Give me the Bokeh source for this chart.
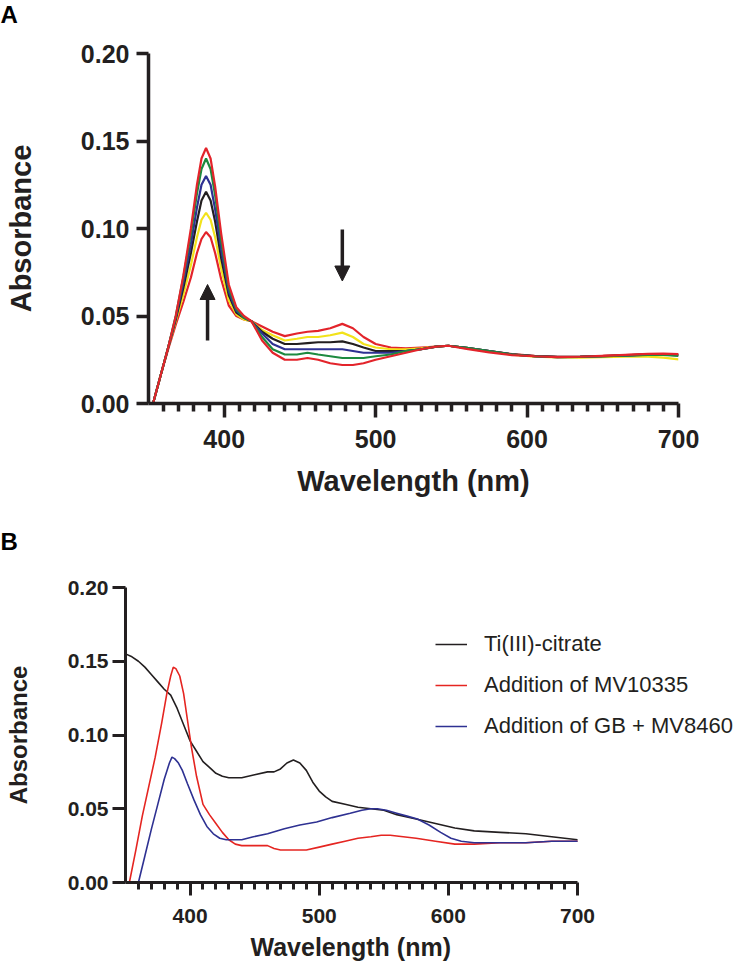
from bokeh.plotting import figure
from bokeh.models import (Range1d, FixedTicker, Arrow, NormalHead, Title,
                          Legend, LegendItem, CustomJSTickFormatter)
from bokeh.embed import file_html
from bokeh.resources import INLINE

# ---------------- Panel A data ----------------
a_wl = [353, 358, 363, 368, 373, 378, 382, 385, 388, 391, 394, 398, 403, 408, 413, 418,
        425, 432, 440, 448, 455, 462, 470, 478, 485, 492, 500, 510, 520, 530, 540, 548,
        560, 575, 590, 605, 620, 635, 650, 665, 680, 690, 700]

a_red_low = [0, .016, .031, .045, .058, .072, .086, .094, .098, .095, .086, .071, .056, .050, .048, .047,
             .044, .041, .0385, .040, .041, .0415, .043, .0455, .043, .038, .034, .032, .0315, .032, .0325, .033,
             .0318, .0300, .0282, .0272, .0266, .0268, .0272, .0276, .0282, .0283, .0280]
a_yellow = [0, .016, .032, .047, .062, .079, .095, .105, .109, .105, .095, .077, .059, .051, .048, .047,
            .042, .039, .036, .037, .038, .038, .039, .0405, .038, .034, .032, .031, .031, .0315, .0325, .033,
            .0318, .0298, .0279, .0268, .0263, .0262, .0265, .0268, .0268, .0262, .0252]
a_black = [0, .016, .032, .048, .066, .086, .104, .116, .121, .116, .104, .083, .062, .052, .049, .047,
           .041, .037, .034, .034, .0345, .035, .035, .0355, .034, .032, .030, .030, .030, .031, .0325, .033,
           .0318, .0300, .0281, .0271, .0266, .0267, .0271, .0275, .0281, .0282, .0278]
a_blue = [0, .016, .032, .049, .069, .091, .112, .125, .130, .125, .111, .088, .064, .053, .049, .047,
          .040, .034, .031, .031, .031, .031, .031, .031, .030, .029, .029, .029, .030, .031, .0325, .033,
          .0318, .0299, .0280, .0270, .0265, .0266, .0270, .0274, .0279, .0280, .0275]
a_green = [0, .016, .032, .050, .072, .097, .120, .134, .140, .134, .119, .093, .066, .054, .049, .047,
           .038, .031, .028, .028, .029, .028, .027, .026, .026, .026, .027, .028, .030, .031, .0325, .033,
           .0318, .0299, .0280, .0270, .0265, .0266, .0270, .0274, .0278, .0278, .0272]
a_red_high = [0, .016, .032, .050, .073, .100, .125, .140, .146, .140, .124, .097, .068, .055, .050, .047,
              .036, .029, .025, .025, .026, .025, .023, .022, .022, .023, .025, .027, .029, .031, .0325, .033,
              .0312, .0292, .0276, .0270, .0265, .0267, .0272, .0278, .0284, .0285, .0282]

a_series = [
    (a_red_low, "#e3242b"),
    (a_yellow, "#f2e21a"),
    (a_black, "#231f20"),
    (a_blue, "#2e3192"),
    (a_green, "#1d8a3f"),
    (a_red_high, "#e3242b"),
]

# arrows in panel A (wavelength, start absorbance, end absorbance)
arrow_x = [389, 478]
arrow_y_start = [0.036, 0.0994]
arrow_y_end = [0.068, 0.070]

# ---------------- Panel B data ----------------
b_black_wl = [350, 355, 360, 365, 370, 375, 380, 385, 390, 395, 400, 405, 410, 415, 420, 425, 430,
              440, 450, 460, 465, 470, 475, 480, 485, 490, 495, 500, 505, 510, 520, 530, 540, 550,
              560, 575, 590, 605, 620, 640, 660, 680, 700]
b_black = [.155, .153, .150, .146, .141, .136, .131, .127, .118, .107, .096, .089, .082, .078, .074, .072, .071,
           .071, .073, .075, .075, .077, .081, .083, .081, .076, .068, .062, .058, .055, .053, .051, .050, .049,
           .046, .043, .040, .037, .035, .034, .033, .031, .029]

b_red_wl = [353, 358, 363, 368, 373, 378, 382, 385, 387, 389, 392, 395, 398, 401, 405, 410, 415, 420,
            425, 430, 435, 440, 445, 450, 455, 460, 465, 470, 480, 490, 500, 510, 520, 530, 540, 548,
            555, 565, 575, 590, 605, 620, 640, 660, 680, 700]
b_red = [0, .022, .045, .065, .085, .108, .128, .140, .146, .145, .140, .128, .110, .092, .072, .053, .046, .040,
         .034, .029, .026, .025, .025, .025, .025, .025, .023, .022, .022, .022, .024, .026, .028, .030, .031, .032,
         .032, .031, .030, .028, .026, .026, .027, .027, .028, .028]

b_blue_wl = [360, 365, 370, 375, 380, 384, 386, 388, 391, 394, 398, 403, 408, 413, 418, 423, 428, 434,
             440, 449, 460, 473, 485, 498, 510, 524, 533, 540, 545, 552, 560, 568, 576, 585, 594, 602,
             610, 620, 640, 660, 680, 700]
b_blue = [0, .018, .036, .053, .070, .081, .085, .084, .081, .076, .067, .056, .046, .038, .033, .030, .029, .029,
          .029, .031, .033, .0365, .039, .041, .044, .047, .049, .050, .050, .049, .047, .045, .043, .039, .034, .030,
          .028, .027, .027, .027, .028, .028]

b_labels = ["Ti(III)-citrate", "Addition of MV10335", "Addition of GB + MV8460"]
b_colors = ["#231f20", "#e52521", "#2e3192"]

# ---------------- ticks ----------------
x_ticks = [400, 500, 600, 700]
x_minor = [360, 370, 380, 390, 410, 420, 430, 440, 450, 460, 470, 480, 490, 510, 520, 530, 540, 550,
           560, 570, 580, 590, 610, 620, 630, 640, 650, 660, 670, 680, 690]
y_ticks = [0.0, 0.05, 0.10, 0.15, 0.20]
x_axis_span = (350, 700)

AXIS = "#231f20"
FONT = "Liberation Sans"


def style(p, tick_fs, title_fs, ylab_standoff, xlab_standoff, maj_y, maj_x, min_x, lw,
          ytick_standoff, xtick_standoff):
    p.grid.visible = False
    p.outline_line_color = None
    p.background_fill_color = "white"
    p.border_fill_color = "white"
    p.xaxis.ticker = FixedTicker(ticks=x_ticks, minor_ticks=x_minor)
    p.yaxis.ticker = FixedTicker(ticks=y_ticks, minor_ticks=[])
    p.yaxis.formatter = CustomJSTickFormatter(code="return tick.toFixed(2);")
    p.xaxis.bounds = x_axis_span
    for ax in (p.xaxis[0], p.yaxis[0]):
        ax.axis_line_width = lw
        ax.axis_line_color = AXIS
        ax.major_tick_line_width = lw
        ax.major_tick_line_color = AXIS
        ax.minor_tick_line_width = lw
        ax.minor_tick_line_color = AXIS
        ax.major_tick_in = 0
        ax.minor_tick_in = 0
        ax.major_label_text_font = FONT
        ax.major_label_text_font_style = "bold"
        ax.major_label_text_font_size = tick_fs
        ax.major_label_text_color = AXIS
        ax.axis_label_text_font = FONT
        ax.axis_label_text_font_style = "bold"
        ax.axis_label_text_font_size = title_fs
        ax.axis_label_text_color = AXIS
    p.yaxis.major_tick_out = maj_y
    p.yaxis.minor_tick_out = 0
    p.xaxis.major_tick_out = maj_x
    p.xaxis.minor_tick_out = min_x
    p.yaxis.axis_label_standoff = ylab_standoff
    p.xaxis.axis_label_standoff = xlab_standoff
    p.yaxis.major_label_standoff = ytick_standoff
    p.xaxis.major_label_standoff = xtick_standoff


def panel_title(p, text, offset, line_height):
    # a trailing empty line gives the title box the height needed to lift the letter
    p.title.text = text + "\n"
    p.title.align = "left"
    p.title.vertical_align = "top"
    p.title.offset = offset
    p.title.standoff = 0
    p.title.text_line_height = line_height
    p.title.text_font = FONT
    p.title.text_font_style = "bold"
    p.title.text_font_size = "24px"
    p.title.text_color = "black"


# ---------------- Figure A ----------------
pa = figure(width=739, height=505, output_backend="svg", toolbar_location=None,
            x_range=Range1d(350, 700), y_range=Range1d(0, 0.2), title="A",
            min_border_left=148, min_border_right=61, min_border_top=52, min_border_bottom=102,
            x_axis_label="Wavelength (nm)", y_axis_label="Absorbance")
style(pa, "25px", "29px", 41, 14, 12, 14, 8, 3.5, 7, 12)
panel_title(pa, "A", -148, 0.88)

for ys, col in a_series:
    pa.line(a_wl, ys, line_color=col, line_width=2.2)

for xa, ys0, ys1 in zip(arrow_x, arrow_y_start, arrow_y_end):
    pa.add_layout(Arrow(end=NormalHead(size=15, fill_color="#231f20", line_color="#231f20"),
                        x_start=xa, y_start=ys0, x_end=xa, y_end=ys1,
                        line_width=3.5, line_color="#231f20"))

# ---------------- Figure B ----------------
# frame extends right of the 700 nm axis end so the legend can sit there
pb = figure(width=739, height=465, output_backend="svg", toolbar_location=None,
            x_range=Range1d(350, 825.4), y_range=Range1d(0, 0.2), title="B",
            min_border_left=125, min_border_right=0, min_border_top=82, min_border_bottom=88,
            y_axis_label="Absorbance")
style(pb, "21px", "24px", 33, 10, 13, 13, 7, 3, 4, 13)
panel_title(pb, "B", -125, 1.146)
pb.add_layout(Title(text="Wavelength (nm)", align="left", offset=125, standoff=10,
                    text_font=FONT, text_font_style="bold", text_font_size="25px",
                    text_color=AXIS), "below")

rb1 = pb.line(b_black_wl, b_black, line_color=b_colors[0], line_width=1.6)
rb2 = pb.line(b_red_wl, b_red, line_color=b_colors[1], line_width=1.6)
rb3 = pb.line(b_blue_wl, b_blue, line_color=b_colors[2], line_width=1.6)

legend = Legend(items=[LegendItem(label=b_labels[0], renderers=[rb1]),
                       LegendItem(label=b_labels[1], renderers=[rb2]),
                       LegendItem(label=b_labels[2], renderers=[rb3])],
                location=(310, 143))
legend.border_line_color = None
legend.background_fill_alpha = 0
legend.label_text_font = FONT
legend.label_text_font_size = "22px"
legend.label_text_color = AXIS
legend.glyph_width = 32
legend.glyph_height = 24
legend.label_height = 24
legend.label_standoff = 17
legend.spacing = 15
legend.padding = 0
legend.margin = 0
pb.add_layout(legend)

open("out.html", "w").write(file_html([pa, pb], INLINE))
